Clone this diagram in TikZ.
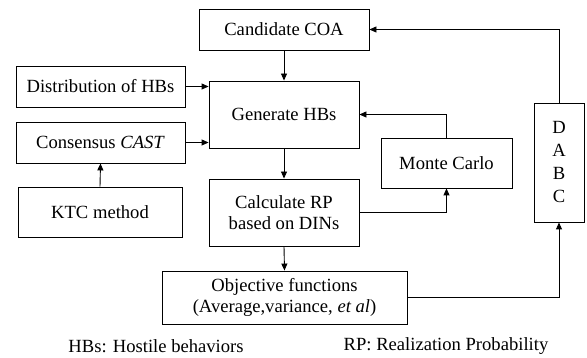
\documentclass[tikz,border=0pt]{standalone}
\usepackage{fontspec}
\setmainfont{Liberation Serif}
\usetikzlibrary{arrows.meta}
\begin{document}
\begin{tikzpicture}[x=1pt,y=-1pt,
  box/.style={draw, line width=0.9pt, rectangle, inner sep=0pt, align=center,
    font=\fontsize{18.6}{21.5}\selectfont},
  conn/.style={draw, line width=0.9pt, -{Triangle[length=7pt,width=6pt]}},
  legendtext/.style={inner sep=0pt, font=\fontsize{18.6}{21.5}\selectfont}]
\useasboundingbox (0,0) rectangle (587,358);
\node[box, minimum width=170pt, minimum height=41pt] (cand) at (284,29.5) {Candidate COA};
\node[box, minimum width=169pt, minimum height=41pt] (dist) at (100.5,86.5) {Distribution of HBs};
\node[box, minimum width=150pt, minimum height=67pt] (gen) at (284,114.5) {Generate HBs};
\node[box, minimum width=169pt, minimum height=41pt] (cons) at (100.5,142.5) {Consensus \textit{CAST}};
\node[box, minimum width=164pt, minimum height=50pt] (ktc) at (100,212) {KTC method};
\node[box, minimum width=150pt, minimum height=67pt] (calc) at (284,212.5) {Calculate RP\\based on DINs};
\node[box, minimum width=131pt, minimum height=50pt] (mc) at (446.5,163) {Monte Carlo};
\node[box, minimum width=50pt, minimum height=119pt, font=\fontsize{18.6}{23}\selectfont] (dabc) at (559,162.5) {D\\A\\B\\C};
\node[box, minimum width=245pt, minimum height=53pt] (obj) at (284.5,297.5) {Objective functions\\(Average,variance, \textit{et al})};
\node[legendtext] (hb) at (156,346) {HBs: Hostile behaviors};
\node[legendtext] (rp) at (446,346) {RP: Realization Probability};
\draw[conn] (dist.east) -- (dist.east -| gen.west);
\draw[conn] (cons.east) -- (cons.east -| gen.west);
\draw[conn] (ktc.north) -- (cons.south);
\draw[conn] (cand.south) -- (gen.north);
\draw[conn] (gen.south) -- (calc.north);
\draw[conn] (calc.east) -| (mc.south);
\draw[conn] (mc.north) |- (gen.east);
\draw[conn] (calc.south) -- (obj.north);
\draw[conn] (obj.east) -| (dabc.south);
\draw[conn] (dabc.north) |- (cand.east);
\end{tikzpicture}
\end{document}
